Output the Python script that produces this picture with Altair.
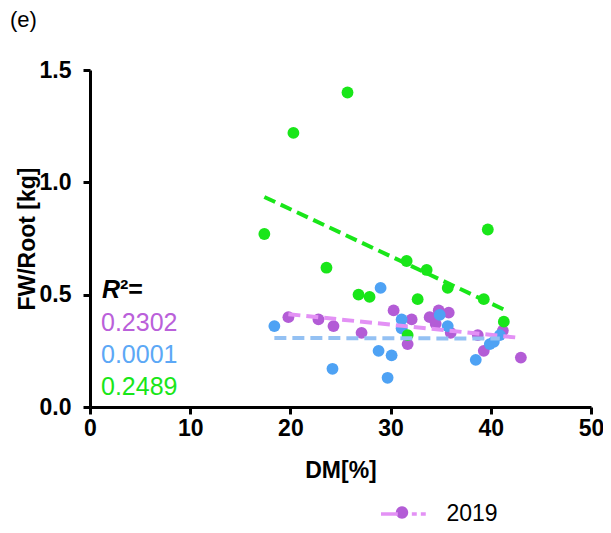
import altair as alt
import pandas as pd

# ---- data ----
dm_2019 = [19.8, 22.8, 24.3, 27.1, 30.3, 32.1, 31.7, 33.9, 34.8, 34.5, 35.8, 36.0, 38.7, 39.3, 41.2, 43.0]
fw_2019 = [0.40, 0.39, 0.36, 0.33, 0.43, 0.39, 0.28, 0.40, 0.43, 0.37, 0.42, 0.33, 0.32, 0.25, 0.34, 0.22]

dm_blue = [18.4, 24.2, 29.0, 28.8, 29.7, 30.1, 31.1, 31.1, 34.9, 35.7, 38.5, 39.9, 40.3, 40.9]
fw_blue = [0.36, 0.17, 0.53, 0.25, 0.13, 0.23, 0.39, 0.35, 0.41, 0.36, 0.21, 0.28, 0.29, 0.32]

dm_green = [17.4, 20.3, 25.7, 23.6, 26.8, 27.9, 31.6, 33.6, 32.7, 31.7, 35.7, 39.7, 39.3, 41.3]
fw_green = [0.77, 1.22, 1.40, 0.62, 0.50, 0.49, 0.65, 0.61, 0.48, 0.32, 0.53, 0.79, 0.48, 0.38]

series_names = ["2019", "series_b", "series_c"]
dot_colors = ["#B35CD6", "#4EA2F4", "#19E619"]
line_colors = ["#E391F5", "#94C1F3", "#19E619"]
r2_labels = ["0.2302", "0.0001", "0.2489"]
r2_colors = ["#BA60DA", "#5CA8F6", "#19E619"]

x_ticks = [0, 10, 20, 30, 40, 50]
y_ticks = [0, 0.5, 1.0, 1.5]

df = pd.concat([
    pd.DataFrame({"DM": dm_2019, "FW": fw_2019, "series": series_names[0]}),
    pd.DataFrame({"DM": dm_blue, "FW": fw_blue, "series": series_names[1]}),
    pd.DataFrame({"DM": dm_green, "FW": fw_green, "series": series_names[2]}),
], ignore_index=True)
df["fit"] = df["series"]

FONT = "Liberation Sans"
LEG_X, LEG_Y = 300.5, 431
LEG_SIZE = 506
line_path = "M -2 0 L -0.5 0 M 0.74 0 L 1.18 0 M 1.54 0 L 1.98 0"
dot_path = "M 0.55 0 A 0.55 0.55 0 1 1 -0.55 0 A 0.55 0.55 0 1 1 0.55 0 Z"

x_enc = alt.X("DM:Q", scale=alt.Scale(domain=[0, 50], nice=False),
              axis=alt.Axis(values=x_ticks, title="DM[%]", labelPadding=3,
                            titlePadding=19, labelFlush=False))
y_enc = alt.Y("FW:Q", scale=alt.Scale(domain=[0, 1.5], nice=False),
              axis=alt.Axis(values=y_ticks, format=".1f", title="FW/Root [kg]",
                            labelPadding=12, titlePadding=0, labelFlush=False))

lines = alt.Chart(df).transform_regression(
    "DM", "FW", groupby=["fit"]
).mark_line(strokeWidth=4, strokeDash=[12, 6]).encode(
    x="DM:Q",
    y="FW:Q",
    stroke=alt.Stroke("fit:N", scale=alt.Scale(domain=series_names, range=line_colors),
                      legend=alt.Legend(values=["2019"], title=None,
                                        symbolType=line_path, symbolSize=LEG_SIZE,
                                        symbolStrokeWidth=3.5, symbolDash=[1, 0],
                                        labelFontSize=23, labelFont=FONT, labelColor="black",
                                        labelOffset=30, orient="none",
                                        legendX=LEG_X, legendY=LEG_Y, padding=0)),
)

points = alt.Chart(df).mark_point(filled=True, size=140, opacity=1, strokeWidth=0).encode(
    x=x_enc,
    y=y_enc,
    fill=alt.Fill("series:N", scale=alt.Scale(domain=series_names, range=dot_colors),
                  legend=alt.Legend(values=["2019"], labelExpr="''", title=None,
                                    symbolType=dot_path, symbolSize=LEG_SIZE,
                                    symbolStrokeWidth=0, orient="none",
                                    legendX=LEG_X, legendY=LEG_Y, padding=0)),
)

texts = []
# R²= heading
texts.append(alt.Chart(pd.DataFrame({"t": ["R"]})).mark_text(
    align="left", baseline="alphabetic", font=FONT, fontSize=25, fontWeight="bold",
    fontStyle="italic", color="black").encode(text="t:N", x=alt.value(12), y=alt.value(228)))
texts.append(alt.Chart(pd.DataFrame({"t": ["²="]})).mark_text(
    align="left", baseline="alphabetic", font=FONT, fontSize=25, fontWeight="bold",
    color="black").encode(text="t:N", x=alt.value(30), y=alt.value(228)))
for i, (lab, col) in enumerate(zip(r2_labels, r2_colors)):
    texts.append(alt.Chart(pd.DataFrame({"t": [lab]})).mark_text(
        align="left", baseline="alphabetic", font=FONT, fontSize=25, color=col
    ).encode(text="t:N", x=alt.value(11), y=alt.value(261 + 32 * i)))
# panel tag
texts.append(alt.Chart(pd.DataFrame({"t": ["(e)"]})).mark_text(
    align="left", baseline="middle", font=FONT, fontSize=22, color="black"
).encode(text="t:N", x=alt.value(-80), y=alt.value(-50)))

chart = alt.layer(points, lines, *texts).properties(
    width=501, height=337,
    autosize=alt.AutoSizeParams(type="none"),
    padding={"left": 82, "top": 62, "right": 12, "bottom": 118},
).resolve_legend(fill="independent", stroke="independent").configure_view(
    strokeWidth=0
).configure_axis(
    domainColor="black", domainWidth=3, tickColor="black", tickWidth=3, tickSize=7,
    labelFont=FONT, labelFontSize=23, labelFontWeight="bold", labelColor="black",
    titleFont=FONT, titleFontSize=23, titleFontWeight="bold", titleColor="black",
    grid=False,
).configure_legend(labelFont=FONT)

chart.save("out.html", embed_options={"renderer": "svg", "actions": False})
